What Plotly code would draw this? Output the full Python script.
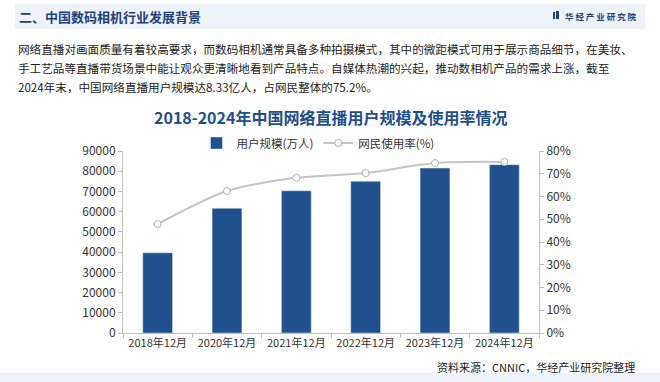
import plotly.graph_objects as go

categories = ["2018年12月", "2020年12月", "2021年12月", "2022年12月", "2023年12月", "2024年12月"]
users = [39676, 61685, 70337, 75065, 81566, 83252]
rate = [47.9, 62.4, 68.2, 70.3, 74.7, 75.2]
left_ticks = [0, 10000, 20000, 30000, 40000, 50000, 60000, 70000, 80000, 90000]
right_ticks = [0, 10, 20, 30, 40, 50, 60, 70, 80]

W, H = 660, 382
L, R, T, B = 123, 539, 151, 333

def px(x):
    return (x - L) / (R - L)

def py(y):
    return (B - y) / (B - T)

FONT = "Noto Sans CJK SC"
fig = go.Figure()
fig.add_trace(go.Bar(
    x=categories, y=users, name="用户规模(万人)",
    marker=dict(color="#21508e"), width=0.43, yaxis="y",
))
fig.add_trace(go.Scatter(
    x=categories, y=rate, name="网民使用率(%)", yaxis="y2",
    mode="lines+markers", line=dict(color="#c4c4c4", width=2, shape="spline", smoothing=0.8),
    marker=dict(size=7, color="white", line=dict(color="#b0b0b0", width=1)),
))

axis_common = dict(showgrid=False, zeroline=False, showline=True, linecolor="#bdbdbd",
                   linewidth=1, ticks="outside", ticklen=4, tickcolor="#bdbdbd", automargin=False,
                   tickfont=dict(family=FONT, size=12, color="#333333"))

fig.update_layout(
    width=W, height=H, autosize=False,
    margin=dict(l=L, r=W - R, t=T, b=H - B),
    paper_bgcolor="white", plot_bgcolor="rgba(0,0,0,0)",
    font=dict(family=FONT, color="#333333"),
    xaxis=dict(**{**axis_common, "tickfont": dict(family=FONT, size=11, color="#333333")},
               tickson="boundaries", type="category", tickangle=0),
    yaxis=dict(**axis_common, range=[0, 90000], tickvals=left_ticks, ticktext=[str(v) for v in left_ticks]),
    yaxis2=dict(**axis_common, overlaying="y", side="right", range=[0, 80],
                tickvals=right_ticks, ticktext=[f"{v}%" for v in right_ticks]),
    legend=dict(orientation="h", x=px(318), xanchor="center", y=py(143), yanchor="middle",
                font=dict(family=FONT, size=11.5, color="#333333"), bgcolor="rgba(0,0,0,0)",
                itemwidth=30, tracegroupgap=0),
    showlegend=True,
)

shapes = [
    dict(type="rect", xref="paper", yref="paper", x0=px(15), x1=px(645), y0=py(29), y1=py(4),
         fillcolor="#eef3fa", line=dict(width=0), layer="below"),
    dict(type="rect", xref="paper", yref="paper", x0=px(0), x1=px(660), y0=py(382), y1=py(373),
         fillcolor="#eef3fa", line=dict(width=0), layer="below"),
    dict(type="rect", xref="paper", yref="paper", x0=px(553), x1=px(555), y0=py(19), y1=py(12),
         fillcolor="#1f3f7a", line=dict(width=0)),
    dict(type="rect", xref="paper", yref="paper", x0=px(556), x1=px(559), y0=py(19), y1=py(11),
         fillcolor="#1f3f7a", line=dict(width=0)),
]
fig.update_layout(shapes=shapes)

ann = []
def text(x, y, s, size, color, bold=False, xanchor="left", yanchor="middle"):
    ann.append(dict(xref="paper", yref="paper", x=px(x), y=py(y), text=f"<b>{s}</b>" if bold else s,
                    showarrow=False, xanchor=xanchor, yanchor=yanchor,
                    font=dict(family=FONT, size=size, color=color)))

text(17, 16, "二、中国数码相机行业发展背景", 13, "#1f3f7a", bold=True)
text(563, 15.5, "华 经 产 业 研 究 院", 8.5, "#1f3f7a", bold=True)
text(16, 49, "网络直播对画面质量有着较高要求，而数码相机通常具备多种拍摄模式，其中的微距模式可用于展示商品细节，在美妆、", 11.6, "#222222")
text(16, 68, "手工艺品等直播带货场景中能让观众更清晰地看到产品特点。自媒体热潮的兴起，推动数相机产品的需求上涨，截至", 11.6, "#222222")
text(16, 87, "2024年末，中国网络直播用户规模达8.33亿人，占网民整体的75.2%。", 11.6, "#222222")
text(330, 117, "2018-2024年中国网络直播用户规模及使用率情况", 16, "#1f4e8c", bold=True, xanchor="center")
text(637, 367, "资料来源：CNNIC，华经产业研究院整理", 11, "#222222", xanchor="right")
fig.update_layout(annotations=ann)

fig.write_html("out.html", config={"displayModeBar": False},
               post_script="document.body.style.margin='0';document.body.style.overflow='hidden';")
